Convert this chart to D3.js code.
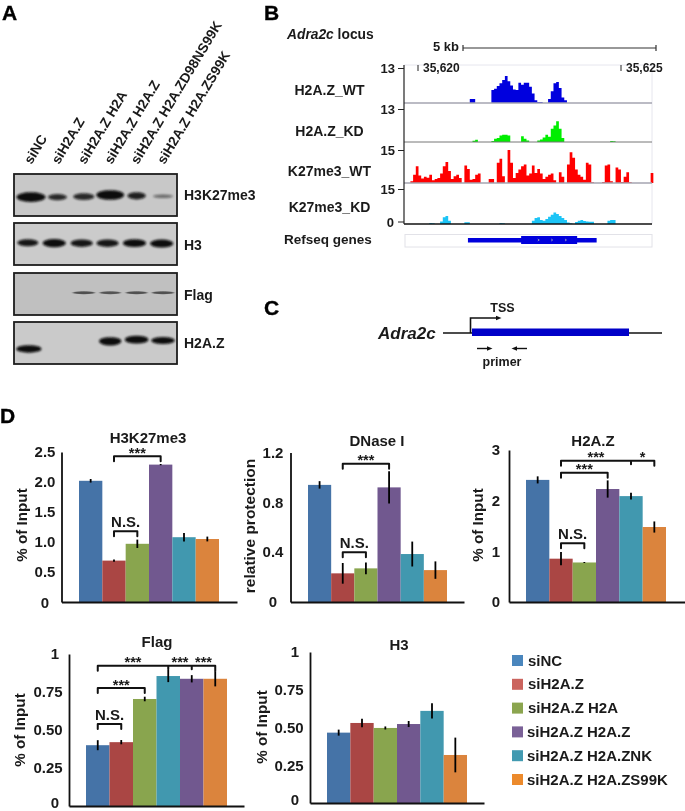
<!DOCTYPE html>
<html><head><meta charset="utf-8">
<script src="https://cdn.jsdelivr.net/npm/d3@7"></script>
<style>
html,body{margin:0;padding:0;background:#fff}
svg{display:block;filter:blur(.5px)}
text{font-family:"Liberation Sans",Arial,sans-serif;font-weight:bold;fill:#1a1a1a}
</style></head><body><div id="c"></div>
<script>
// ---------- Panel A data ----------
const laneLabels=["siNC","siH2A.Z","siH2A.Z H2A","siH2A.Z H2A.Z","siH2A.Z H2A.ZD98NS99K","siH2A.Z H2A.ZS99K"];
const blotNames=["H3K27me3","H3","Flag","H2A.Z"];
const blotTone=["#c8c8c8","#cbcbcb","#c0c0c0","#cacaca"];
const bandIntensity=[[1,.85,.85,1,.9,.5],[.95,1,.95,.95,1,1],[0,0,.62,.6,.62,.62],[1,0,0,1,1,1]];
const bandWidth=[[1.1,.72,.8,1.05,.7,.75],[.8,.88,.84,.84,.88,.88],[0,0,.84,.8,.82,.84],[.95,0,0,.85,.9,.9]];
const bandThick=[[.2,.12,.13,.2,.14,.06],[.14,.17,.15,.15,.16,.16],[0,0,.04,.04,.04,.04],[.15,0,0,.17,.16,.14]];
const bandRow=[[.55,.55,.54,.5,.52,.53],[.47,.48,.48,.48,.48,.49],[0,0,.47,.47,.47,.47],[.64,0,0,.46,.42,.44]];
const laneShift=[[0,0,0,0,0,0],[-.12,-.12,-.08,-.1,-.08,-.05],[0,0,0,0,0,0],[-.08,0,0,0,0,0]];

// ---------- Panel B data ----------
const trackNames=["H2A.Z_WT","H2A.Z_KD","K27me3_WT","K27me3_KD"];
const trackMax=[13,13,15,15];
const trackTone=["#0000de","#00ee00","#ff0000","#1cc4f6"];
const h2azWT=[0,0,0,0,0,0,0,0,0,0,0,0,0,0,0,0,0,0,0,0,0,0,0,0,1.5,1.5,0,0,0,0,0,0,4.8,5.3,6.3,7.3,8.5,10,8.1,6.5,5,4.8,7.5,6.8,7.5,7.5,6,3.5,1,.4,.4,0,0,1.5,4.4,7.3,7.8,5.6,2,1,0,0,0,0,0,0,0,0,0,0,0,0,0,0,0,0,0,0,0,0,0,0,0,0,0,0,0,0,0,0,0,0];
const h2azKD=[0,0,0,0,0,0,0,0,0,0,0,0,0,0,0,0,0,0,0,0,0,0,0,0,0,.5,.9,0,0,0,0,0,.4,1.3,1.6,2.6,2.9,2.9,2.6,0,0,0,0,2.3,1.3,.6,0,0,0,.6,1,1.8,2.9,2.1,5.2,6.5,8.2,5.2,1.6,0,0,0,0,0,0,0,0,0,0,0,0,0,0,0,0,0,.4,.3,0,0,0,0,0,0,0,0,0,0,0,0,0,0];
const k27WT=[0,0,.8,3.8,7.6,3.4,2.1,2.8,2.4,3.8,1.2,1.8,2.3,4.3,7.6,9.5,5.4,1.8,3.1,3.8,2.3,0,8,6.4,1.5,1.8,3.8,4.3,0,0,0,1.8,1.8,0,9.2,11,3.1,0,15,9.2,2.3,4.6,6.1,7.6,8.4,3.4,4.3,8,4.6,6.4,4.3,1.8,2.8,3.7,4.3,1.2,0,4.9,2.8,0,8.4,14,11.5,6.1,3.8,2.8,1.5,9.2,8.4,.3,0,0,0,.5,8,8.4,.8,0,7,6.1,.5,2.8,4.9,.3,0,0,0,0,0,0,0,4.6];
const k27KD=[0,0,0,0,0,0,0,0,0,.4,.3,0,0,1.1,2.9,3.4,1.4,0,0,0,0,0,.7,.7,0,0,0,0,0,0,0,0,0,0,0,.4,.3,0,0,0,0,0,0,0,0,0,0,1.4,2.6,2.9,1.7,1.4,2.1,3.1,4,4.9,4.3,3.4,2.6,1.7,.6,.3,0,.9,1.4,1.7,1.3,1.1,1,1,0,0,0,0,0,1.4,1.7,1.7,0,0,0,0,0,0,0,0,0,0,0,0,0,0];
const trackData=[h2azWT,h2azKD,k27WT,k27KD];
const genomeTicks=[35620,35625];
const geneThin=[35621.23,35624.4];
const geneThick=[35622.54,35623.92];
const geneChevrons=[35622.95,35623.28,35623.62];

// ---------- Panel D data ----------
const groups=["siNC","siH2A.Z","siH2A.Z H2A","siH2A.Z H2A.Z","siH2A.Z H2A.ZNK","siH2A.Z H2A.ZS99K"];
const barTone=["#4573a7","#aa4644","#89a54e","#71588f","#4198af","#db843d"];
const legendTone=["#4a86bd","#cb645e","#8ba54f","#7a6197","#429ab1","#ec8a2c"];
const h3k27Values=[2.02,.69,.97,2.29,1.08,1.05], h3k27Err=[.03,.02,.07,.01,.07,.04];
const dnaseValues=[.94,.23,.27,.92,.385,.256], dnaseErr=[.03,.083,.048,.13,.10,.07];
const h2azValues=[2.41,.855,.78,2.23,2.09,1.48], h2azErr=[.07,.13,.01,.17,.065,.11];
const flagValues=[.40,.42,.704,.855,.837,.837], flagErr=[.033,.014,.015,.04,.024,.05];
const h3Values=[.466,.53,.497,.523,.61,.318], h3Err=[.02,.028,.01,.02,.05,.115];
const flagOrder=[0,1,2,4,3,5];
const h3k27Ticks=[[0,"0"],[.5,"0.5"],[1,"1.0"],[1.5,"1.5"],[2,"2.0"],[2.5,"2.5"]];
const dnaseTicks=[[0,"0"],[.4,"0.4"],[.8,"0.8"],[1.2,"1.2"]];
const h2azTicks=[[0,"0"],[1,"1"],[2,"2"],[3,"3"]];
const flagTicks=[[0,"0"],[.25,"0.25"],[.5,"0.50"],[.75,"0.75"],[1,"1"]];
// each bracket: stops (bar indices), level (axis value), labels per segment
const h3k27Brackets=[{stops:[1,3],level:2.43,labels:["***"]},{stops:[1,2],level:1.18,labels:["N.S."]}];
const dnaseBrackets=[{stops:[1,3],level:1.11,labels:["***"]},{stops:[1,2],level:.40,labels:["N.S."]}];
const h2azBrackets=[{stops:[1,4,5],level:2.79,labels:["***","*"]},{stops:[1,3],level:2.55,labels:["***"]},{stops:[1,2],level:1.16,labels:["N.S."]}];
const flagBrackets=[{stops:[0,3,4,5],level:.923,labels:["***","***","***"]},{stops:[0,2],level:.776,labels:["***"]},{stops:[0,1],level:.54,labels:["N.S."]}];
const h3Brackets=[];

const svg=d3.select("#c").append("svg").attr("width",685).attr("height",811);
svg.append("defs").append("filter").attr("id","bandBlur").attr("x","-30%").attr("y","-100%").attr("width","160%").attr("height","300%")
  .append("feGaussianBlur").attr("stdDeviation","1.1 .8");
svg.append("defs").append("filter").attr("id","thinBlur").attr("x","-30%").attr("y","-200%").attr("width","160%").attr("height","500%")
  .append("feGaussianBlur").attr("stdDeviation","1 .45");
const txt=(x,y,s,size,anchor)=>svg.append("text").attr("x",x).attr("y",y).attr("font-size",size).attr("text-anchor",anchor||"start").text(s);

// panel letters
[["A",2,19.5],["B",264,19.5],["C",264,315],["D",0,423]].forEach(d=>txt(d[1],d[2],d[0],21).style("fill","#000").attr("stroke","#000").attr("stroke-width",.35));

// ---------- Panel A ----------
const laneX=d3.scaleLinear().domain([0,5]).range([31,163]);
const laneW=26.5;
const blotTop=[174,223,273,322], blotH=42;
laneLabels.forEach((l,i)=>{
  const x=laneX(i)+ (i==0?-1:0), y=165;
  svg.append("text").attr("transform",`translate(${x+1.5},${y}) rotate(-59)`).attr("font-size",13.7).text(l);
});
blotNames.forEach((n,b)=>{
  const ty=d3.scaleLinear().domain([0,1]).range([blotTop[b],blotTop[b]+blotH]);
  const g=svg.append("g");
  g.append("rect").attr("x",14).attr("y",ty(0)).attr("width",163).attr("height",blotH).attr("fill",blotTone[b]);
  g.selectAll("ellipse").data(d3.range(6).filter(i=>bandIntensity[b][i]>0)).join("ellipse")
    .attr("cx",i=>laneX(i+laneShift[b][i]))
    .attr("cy",i=>ty(bandRow[b][i]))
    .attr("rx",i=>bandWidth[b][i]*laneW/2)
    .attr("ry",i=>bandThick[b][i]*blotH/2+.6)
    .attr("fill","#0b0b0b").attr("opacity",i=>bandIntensity[b][i])
    .attr("filter",b==2?"url(#thinBlur)":"url(#bandBlur)");
  g.append("rect").attr("x",14).attr("y",ty(0)).attr("width",163).attr("height",blotH).attr("fill","none").attr("stroke","#1d1d1d").attr("stroke-width",1.8);
  txt(184,[200,250,300,348][b],n,14);
});

// ---------- Panel B ----------
const gx=d3.scaleLinear().domain([35620,35625]).range([418,621]);
const binX=d3.scaleLinear().domain([0,91.5]).range([405,652]);
const base=[103,142,183,224], tops=[68,109,150,189];
const labelBase=[95,136,176,212];
svg.append("path").attr("d","M404 65H652V224").attr("fill","none").attr("stroke","#e6e6ee").attr("stroke-width",1);
trackData.forEach((vals,t)=>{
  const y=d3.scaleLinear().domain([0,trackMax[t]]).range([base[t],tops[t]]);
  const area=d3.area().x((d,i)=>binX(i)).y0(y(0)).y1(d=>y(d)).curve(d3.curveStepAfter);
  svg.append("path").attr("d",area(vals.concat([vals[vals.length-1]]))).attr("fill",trackTone[t]);
  svg.append("line").attr("x1",404).attr("x2",652).attr("y1",base[t]).attr("y2",base[t])
     .attr("stroke",t==3?"#111":(t==1?"#777":"#a5a5b0")).attr("stroke-width",t==1?1:1.6);
  const ax=svg.append("g").attr("transform","translate(404,0)").call(d3.axisLeft(y).tickValues([trackMax[t]]).tickSize(6).tickPadding(3));
  ax.select(".domain").remove();
  ax.selectAll("line").attr("stroke","#222").attr("stroke-width",1);
  ax.selectAll("text").attr("font-size",13).attr("font-family",null);
  txt(329.5,labelBase[t],trackNames[t],14,"middle");
});
{ // zero tick of last track & axis spine
  svg.append("line").attr("x1",404).attr("x2",404).attr("y1",65).attr("y2",224).attr("stroke","#222").attr("stroke-width",1.2);
  svg.append("line").attr("x1",398).attr("x2",404).attr("y1",222).attr("y2",222).attr("stroke","#222");
  txt(394,227,"0",13,"end");
}
// scale bar
txt(433,51,"5 kb",13);
svg.append("path").attr("d","M463 45V51M463 48H656M656 45V51").attr("fill","none").attr("stroke","#333").attr("stroke-width",1.2);
genomeTicks.forEach(k=>{
  svg.append("line").attr("x1",gx(k)).attr("x2",gx(k)).attr("y1",65).attr("y2",71).attr("stroke","#222");
  txt(gx(k)+5,72,d3.format(",")(k/1),12);
});
{const a=txt(287,39,"",13.8);a.append("tspan").attr("font-style","italic").text("Adra2c");a.append("tspan").text(" locus");}
txt(284,244,"Refseq genes",13.5);
svg.append("rect").attr("x",405).attr("y",234.5).attr("width",247).attr("height",12.5).attr("fill","none").attr("stroke","#e2e2e8");
svg.append("rect").attr("x",gx(geneThin[0])).attr("width",gx(geneThin[1])-gx(geneThin[0])).attr("y",238).attr("height",4.5).attr("fill","#0000dc");
svg.append("rect").attr("x",gx(geneThick[0])).attr("width",gx(geneThick[1])-gx(geneThick[0])).attr("y",236).attr("height",8).attr("fill","#0000dc");
geneChevrons.forEach(k=>svg.append("path").attr("d",`M${gx(k)} 239l1.5 1l-1.5 1`).attr("fill","none").attr("stroke","#aab").attr("stroke-width",.8));

// ---------- Panel C ----------
svg.append("defs").append("marker").attr("id","ah").attr("markerUnits","userSpaceOnUse").attr("markerWidth",7).attr("markerHeight",6).attr("refX",1).attr("refY",3).attr("orient","auto")
  .append("path").attr("d","M0 .8L5.5 3L0 5.2Z").attr("fill","#111");
const ln=(d,w)=>svg.append("path").attr("d",d).attr("fill","none").attr("stroke","#111").attr("stroke-width",w);
txt(378,339,"Adra2c",17).attr("font-style","italic");
ln("M443 333H662",1.5);
svg.append("rect").attr("x",472).attr("y",328.5).attr("width",157).attr("height",7.5).attr("fill","#0000c8");
ln("M470.5 333V318H497",1.6).attr("marker-end","url(#ah)");
txt(502.5,312,"TSS",12.5,"middle");
ln("M477 348.5H488",1.4).attr("marker-end","url(#ah)");
ln("M527 348.5H516",1.4).attr("marker-end","url(#ah)");
txt(502,366,"primer",12.5,"middle");

// ---------- Panel D ----------
const charts=[
 {title:"H3K27me3",tx:148,ty:443,vals:h3k27Values,err:h3k27Err,order:[0,1,2,3,4,5],ticks:h3k27Ticks,max:2.5,brackets:h3k27Brackets,ax:61.5,y0:602,y1:452,xEnd:237,b0:79,b1:219,lab:45,zeroLift:-1,ylab:"% of Input",ylx:22,yly:525},
 {title:"DNase I",tx:377,ty:446,vals:dnaseValues,err:dnaseErr,order:[0,1,2,3,4,5],ticks:dnaseTicks,max:1.2,brackets:dnaseBrackets,ax:290.5,y0:602,y1:452.5,xEnd:464,b0:308,b1:447,lab:273,zeroLift:0,ylab:"relative protection",ylx:250,yly:526},
 {title:"H2A.Z",tx:593,ty:446,vals:h2azValues,err:h2azErr,order:[0,1,2,3,4,5],ticks:h2azTicks,max:3,brackets:h2azBrackets,ax:509,y0:602,y1:450,xEnd:685,b0:526,b1:666,lab:496,zeroLift:0,ylab:"% of Input",ylx:478,yly:525},
 {title:"Flag",tx:157,ty:647,vals:flagValues,err:flagErr,order:flagOrder,ticks:flagTicks,max:1,brackets:flagBrackets,ax:69,y0:806,y1:654,xEnd:244,b0:86,b1:227,lab:48,labSingle:55,zeroLift:3,ylab:"% of Input",ylx:20,yly:730},
 {title:"H3",tx:399,ty:650,vals:h3Values,err:h3Err,order:[0,1,2,3,4,5],ticks:flagTicks,max:1,brackets:h3Brackets,ax:310,y0:803,y1:652,xEnd:484,b0:327,b1:467,lab:289,labSingle:295,zeroLift:3,ylab:"% of Input",ylx:262,yly:727}
];
charts.forEach(c=>{
  const g=svg.append("g");
  const x=d3.scaleBand().domain(d3.range(6)).range([c.b0,c.b1]).padding(0);
  const y=d3.scaleLinear().domain([0,c.max]).range([c.y0,c.y1]);
  g.selectAll("rect.bar").data(c.vals).join("rect").attr("class","bar")
    .attr("x",(d,i)=>x(i)).attr("width",x.bandwidth()).attr("y",d=>y(d)).attr("height",d=>y(0)-y(d))
    .attr("fill",(d,i)=>barTone[c.order[i]]);
  g.selectAll("line.err").data(c.vals).join("line").attr("class","err")
    .attr("x1",(d,i)=>x(i)+x.bandwidth()/2).attr("x2",(d,i)=>x(i)+x.bandwidth()/2)
    .attr("y1",(d,i)=>y(d-c.err[i])).attr("y2",(d,i)=>y(d+c.err[i]))
    .attr("stroke","#000").attr("stroke-width",1.8);
  const yAxis=d3.axisLeft(y).tickValues(c.ticks.map(t=>t[0])).tickFormat((d,i)=>c.ticks[i][1]).tickSize(0).tickSizeOuter(0);
  const ya=g.append("g").attr("transform",`translate(${c.ax},0)`).call(yAxis);
  ya.select(".domain").attr("stroke","#111").attr("stroke-width",1.8);
  ya.selectAll("text").attr("font-size",15).attr("font-family",null).attr("text-anchor","middle")
    .attr("x",function(){const s=d3.select(this).text();return (s.length==1&&c.labSingle?c.labSingle:c.lab)-c.ax;})
    .attr("y",function(){return d3.select(this).text()==="0"?-c.zeroLift:0;});
  const xa=g.append("g").attr("transform",`translate(0,${c.y0})`).call(d3.axisBottom(d3.scaleLinear().domain([0,1]).range([c.ax,c.xEnd])).tickValues([]).tickSizeOuter(0));
  xa.select(".domain").attr("stroke","#111").attr("stroke-width",1.8);
  txt(c.tx,c.ty,c.title,15,"middle");
  svg.append("text").attr("transform",`translate(${c.ylx},${c.yly}) rotate(-90)`).attr("dy",".35em").attr("text-anchor","middle").attr("font-size",c.ylab.length>12?15.5:15.2).text(c.ylab);
  c.brackets.forEach(b=>{
    const cx=i=>x(i)+x.bandwidth()/2, by=y(b.level);
    let d=`M${cx(b.stops[0])} ${by+5}V${by}H${cx(b.stops[b.stops.length-1])}V${by+5}`;
    b.stops.slice(1,-1).forEach(s=>d+=`M${cx(s)} ${by}V${by+3.5}`);
    svg.append("path").attr("d",d).attr("fill","none").attr("stroke","#111").attr("stroke-width",2).attr("stroke-linejoin","round").attr("stroke-linecap","round");
    b.labels.forEach((l,i)=>{
      const mid=(cx(b.stops[i])+cx(b.stops[i+1]))/2;
      if(l==="N.S.") txt(mid,by-4,l,15,"middle");
      else txt(mid,by+1.5,l,14.5,"middle");
    });
  });
});

// legend
const legY=d3.scalePoint().domain(groups).range([655,774]);
groups.forEach((n,i)=>{
  svg.append("rect").attr("x",512).attr("y",legY(n)).attr("width",11).attr("height",11).attr("fill",legendTone[i]);
  txt(i<3?528:527,legY(n)+10.5,n,15);
});
</script></body></html>
